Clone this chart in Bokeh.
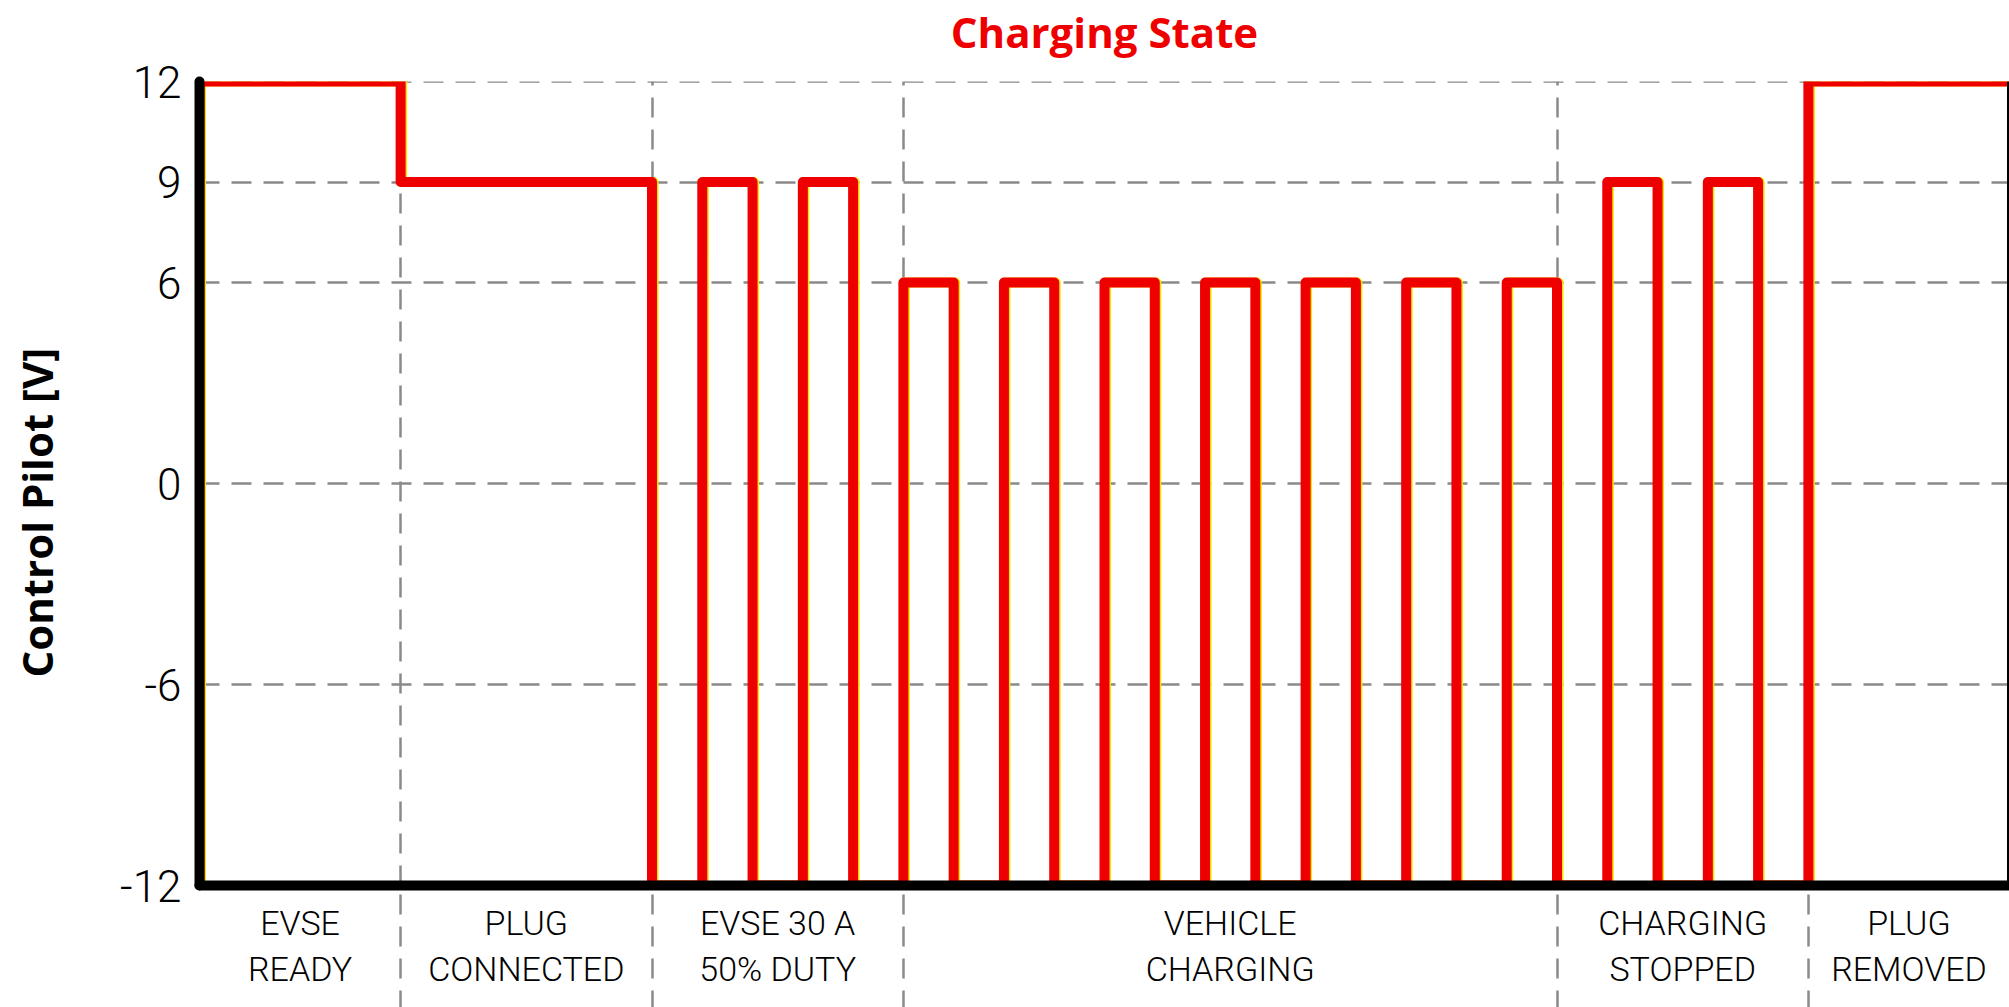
from bokeh.plotting import figure
from bokeh.models import FixedTicker, Title, Span, ColumnDataSource, Range1d
from bokeh.transform import dodge
from bokeh.embed import file_html
from bokeh.resources import INLINE

# ---- data ----
# phase boundaries (time in half-periods of the pilot square wave)
phase_bounds = [0, 4, 9, 14, 27, 32, 36]
phase_labels = ["EVSE\nREADY", "PLUG\nCONNECTED", "EVSE 30 A\n50% DUTY",
                "VEHICLE\nCHARGING", "CHARGING\nSTOPPED", "PLUG\nREMOVED"]
# control pilot step signal: level held from each time until the next one
step_times = [0, 0, 4, 9, 10, 11, 12, 13, 14, 15, 16, 17, 18, 19, 20, 21, 22, 23,
              24, 25, 26, 27, 28, 29, 30, 31, 32, 36]
step_levels = [-12, 12, 9, -12, 9, -12, 9, -12, 6, -12, 6, -12, 6, -12, 6, -12, 6,
               -12, 6, -12, 6, -12, 9, -12, 9, -12, 12, 12]
y_ticks = [-12, -6, 0, 6, 9, 12]

RED = "#EE0000"
GRID = "#8a8a8a"
TICK_FONT = "Roboto Light"
BOLD_FONT = "Open Sans"

centers = [(a + b) / 2 for a, b in zip(phase_bounds[:-1], phase_bounds[1:])]

src = ColumnDataSource(dict(t=step_times, v=step_levels))

p = figure(width=2009, height=1007, output_backend="svg", toolbar_location=None,
           title=None,
           x_range=Range1d(phase_bounds[0], phase_bounds[-1]),
           y_range=Range1d(-12, 12.001),
           min_border_left=199, min_border_right=0, min_border_top=81,
           min_border_bottom=122)
p.outline_line_color = None
p.background_fill_color = "white"
p.border_fill_color = "white"

# title (a thin spacer keeps it up near the top edge)
p.add_layout(Title(text=" ", text_font_size="1px", standoff=19), "above")
p.add_layout(Title(text="Charging State", align="center", standoff=0,
                   text_font=BOLD_FONT, text_font_style="bold",
                   text_font_size="42px", text_color=RED), "above")

# grids
for g in (p.xgrid, p.ygrid):
    g.grid_line_color = GRID
    g.grid_line_width = 2.5
    g.grid_line_dash = "20 12"
p.xgrid.ticker = FixedTicker(ticks=phase_bounds[1:-1])
p.ygrid.ticker = FixedTicker(ticks=y_ticks)

# signal (thin yellow fringe underneath, red on top)
p.step(x=dodge("t", 0.03), y="v", source=src, mode="after",
       line_width=10, line_color="#F2E600", line_join="round")
p.step(x="t", y="v", source=src, mode="after",
       line_width=10, line_color=RED, line_join="round")

# right frame edge
p.add_layout(Span(location=phase_bounds[-1], dimension="height",
                  line_color="black", line_width=5))

# x axis: category labels at centres, separators as long dashed minor ticks
xa = p.xaxis[0]
xa.ticker = FixedTicker(ticks=centers, minor_ticks=phase_bounds[1:-1])
xa.major_label_overrides = {float(c): lab for c, lab in zip(centers, phase_labels)}
xa.major_label_text_font = TICK_FONT
xa.major_label_text_font_size = "34px"
xa.major_label_text_color = "black"
xa.major_label_text_line_height = 1.16
xa.major_label_standoff = -108
xa.major_tick_out = 0
xa.major_tick_in = 0
xa.major_tick_line_color = None
xa.minor_tick_out = 125
xa.minor_tick_in = 0
xa.minor_tick_line_color = GRID
xa.minor_tick_line_width = 2.5
xa.minor_tick_line_dash = "20 12"
xa.axis_line_color = "black"
xa.axis_line_width = 10
xa.axis_line_cap = "round"

# y axis
ya = p.yaxis[0]
ya.ticker = FixedTicker(ticks=y_ticks, minor_ticks=[])
ya.major_label_overrides = {t: str(t) for t in y_ticks}
ya.major_label_text_font = TICK_FONT
ya.major_label_text_font_size = "44px"
ya.major_label_text_color = "black"
ya.major_label_standoff = 18
ya.major_tick_out = 0
ya.major_tick_in = 0
ya.major_tick_line_color = None
ya.axis_line_color = "black"
ya.axis_line_width = 10
ya.axis_line_cap = "round"

# y axis title, pushed outwards by a thin spacer
p.add_layout(Title(text=" ", text_font_size="1px", standoff=50), "left")
p.add_layout(Title(text="Control Pilot [V]", align="left", offset=208, standoff=0,
                   vertical_align="bottom",
                   text_font=BOLD_FONT, text_font_style="bold",
                   text_font_size="42px", text_color="black"), "left")

open("out.html", "w").write(file_html(p, INLINE))
